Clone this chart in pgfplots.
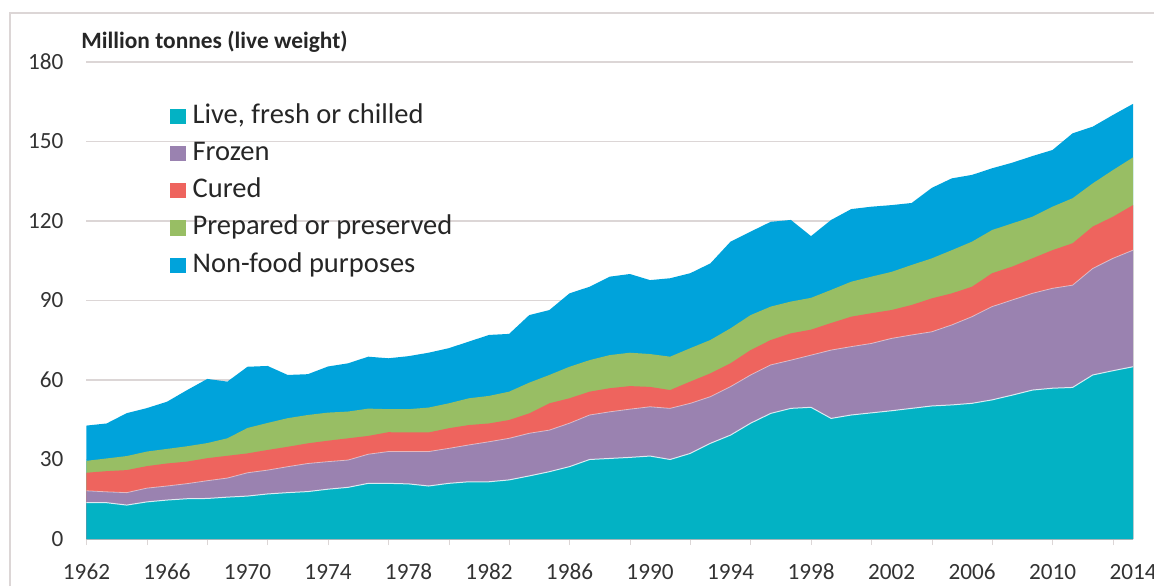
\documentclass[border=0pt]{standalone}
\usepackage{fontspec}
\setmainfont{Carlito}
\usepackage{pgfplots}
\usepackage{pgfplotstable}
\pgfplotsset{compat=1.18}
\definecolor{cTeal}{RGB}{3,178,196}
\definecolor{cPurple}{RGB}{154,130,176}
\definecolor{cRed}{RGB}{238,100,94}
\definecolor{cGreen}{RGB}{152,190,100}
\definecolor{cBlue}{RGB}{0,163,219}
\definecolor{cGrid}{RGB}{220,214,214}
\pgfplotstableread{
year T P R G B
1962 13.7 18.2 25.0 29.5 42.8
1963 13.7 17.8 25.6 30.4 43.6
1964 12.8 17.5 26.0 31.3 47.5
1965 14.0 19.2 27.5 33.0 49.4
1966 14.7 20.0 28.5 34.0 51.8
1967 15.2 20.9 29.2 35.0 56.2
1968 15.3 22.0 30.5 36.2 60.4
1969 15.8 23.0 31.4 38.0 59.4
1970 16.2 25.0 32.3 41.9 65.0
1971 17.0 26.0 33.6 43.8 65.3
1972 17.5 27.3 34.8 45.6 61.9
1973 17.9 28.5 36.1 46.8 62.2
1974 18.8 29.2 37.1 47.7 65.1
1975 19.5 29.8 38.0 48.1 66.3
1976 21.0 32.0 38.9 49.2 68.8
1977 21.0 33.0 40.3 49.0 68.2
1978 20.8 33.0 40.2 49.0 69.0
1979 20.0 33.0 40.2 49.6 70.3
1980 21.0 34.2 41.8 51.2 72.0
1981 21.6 35.5 43.0 53.1 74.5
1982 21.6 36.7 43.6 54.0 77.0
1983 22.3 38.0 44.9 55.6 77.4
1984 23.8 39.9 47.4 59.0 84.5
1985 25.4 41.1 51.2 61.9 86.4
1986 27.3 43.7 53.1 65.0 92.7
1987 30.0 46.8 55.6 67.5 95.2
1988 30.4 48.0 56.9 69.4 99.0
1989 30.8 49.0 57.7 70.3 100.0
1990 31.3 49.9 57.4 69.8 97.7
1991 30.0 49.3 56.2 68.8 98.4
1992 32.3 51.2 59.4 72.0 100.3
1993 36.1 53.7 62.5 75.1 104.0
1994 39.2 57.5 66.3 79.5 112.2
1995 43.7 61.9 71.3 84.5 116.0
1996 47.4 65.7 75.1 87.7 119.7
1997 49.3 67.5 77.6 89.6 120.4
1998 49.7 69.4 79.0 91.0 114.3
1999 45.5 71.3 81.5 94.0 120.4
2000 46.8 72.6 83.9 97.1 124.5
2001 47.6 73.8 85.2 99.0 125.4
2002 48.4 75.7 86.4 100.8 126.0
2003 49.3 77.0 88.3 103.4 126.8
2004 50.2 78.2 90.8 105.9 132.5
2005 50.6 80.8 92.7 109.0 136.1
2006 51.2 83.9 95.2 112.2 137.4
2007 52.5 87.7 100.3 116.6 139.9
2008 54.3 90.2 102.8 119.1 142.0
2009 56.2 92.7 105.9 121.6 144.5
2010 56.9 94.6 109.0 125.4 146.8
2011 57.2 95.8 111.6 128.6 153.1
2012 61.9 102.1 117.9 134.2 155.6
2013 63.5 105.9 121.6 139.2 160.0
2014 65.0 109.0 126.0 144.0 164.2
}\datatable
\begin{document}
\begin{tikzpicture}
\path[use as bounding box] (-43.25pt,-23.5pt) rectangle (533.75pt,269.5pt);
\draw[cGrid, line width=0.6pt] (-38.25pt,-23.5pt) -- (-38.25pt,263pt) -- (533.75pt,263pt);
\node[anchor=west, inner sep=0pt, font=\fontsize{11.7}{13}\selectfont\bfseries, text=black!85] at (-2.75pt,248.5pt) {Million tonnes (live weight)};
\begin{axis}[
  scale only axis,
  width=523.25pt, height=238.5pt,
  xmin=1962, xmax=2014, ymin=0, ymax=180,
  axis x line*=bottom, axis y line*=left,
  x axis line style={draw=cGrid},
  y axis line style={draw=none},
  ytick={0,30,...,180},
  xtick={1962,1966,...,2014},
  minor xtick={1962,1965,...,2013},
  major tick length=0pt,
  minor tick length=3pt,
  tick align=outside,
  minor tick style={cGrid},
  ymajorgrids,
  grid style={cGrid, line width=0.6pt},
  /pgf/number format/assume math mode=true,
  /pgf/number format/set thousands separator={},
  tick label style={font=\fontsize{11.6}{13}\selectfont, text=black!80},
  yticklabel style={xshift=-8pt},
  xticklabel style={yshift=-9pt},
  reverse legend,
  legend image code/.code={\fill[#1] (0pt,-3.8pt) rectangle (7.6pt,3.8pt);},
  legend style={at={(0.0798,0.9163)}, anchor=north west, draw=none, fill=none,
    inner sep=0pt, row sep=4.6pt,
    font=\fontsize{14.25}{16}\selectfont,
    nodes={inner sep=0pt, text height=10.5pt, text depth=3.5pt, text=black!85},
    /tikz/every even column/.append style={column sep=0pt}},
  legend cell align=left,
]
\addplot[fill=cBlue, draw=none] table[x=year, y=B] {\datatable} \closedcycle;
\addlegendentry{\hspace{3.5pt}Non-food purposes}
\addplot[fill=cGreen, draw=none] table[x=year, y=G] {\datatable} \closedcycle;
\addlegendentry{\hspace{3.5pt}Prepared or preserved}
\addplot[fill=cRed, draw=none] table[x=year, y=R] {\datatable} \closedcycle;
\addlegendentry{\hspace{3.5pt}Cured}
\addplot[fill=cPurple, draw=none] table[x=year, y=P] {\datatable} \closedcycle;
\addlegendentry{\hspace{3.5pt}Frozen}
\addplot[fill=cTeal, draw=none] table[x=year, y=T] {\datatable} \closedcycle;
\addlegendentry{\hspace{3.5pt}Live, fresh or chilled}
\addplot[white, line width=0.5pt, opacity=0.8, forget plot] table[x=year, y=T] {\datatable};
\addplot[white, line width=0.4pt, opacity=0.5, forget plot] table[x=year, y=P] {\datatable};
\end{axis}
\end{tikzpicture}
\end{document}
